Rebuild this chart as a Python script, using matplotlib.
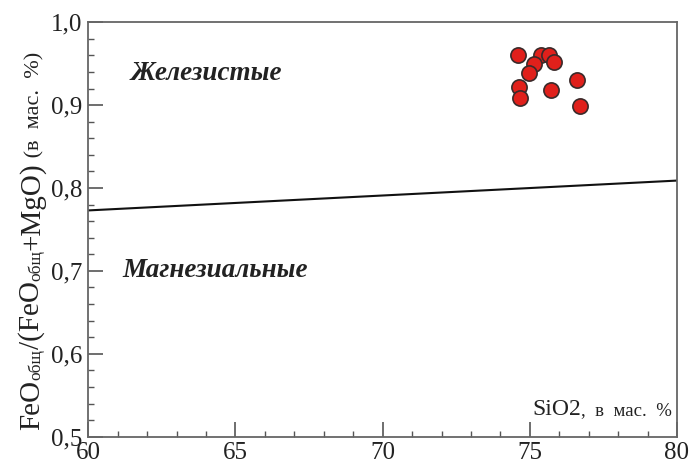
import matplotlib
matplotlib.use("Agg")
import matplotlib.pyplot as plt
from matplotlib.ticker import MultipleLocator, FuncFormatter
from matplotlib.transforms import offset_copy

plt.rcParams["font.family"] = ["Liberation Serif", "DejaVu Serif"]

# data
sio2 = [74.61, 75.38, 75.66, 75.83, 75.15, 74.96, 76.61, 74.63, 74.67, 75.73, 76.71]
fe_ratio = [0.960, 0.960, 0.960, 0.952, 0.950, 0.939, 0.930, 0.922, 0.909, 0.918, 0.899]
boundary_x = [60, 80]
boundary_y = [0.773, 0.809]

W, H = 693, 469
fig = plt.figure(figsize=(W / 100, H / 100), dpi=100)
ax = fig.add_axes([0.1274, 0.0689, 0.8495, 0.8836])

ax.plot(boundary_x, boundary_y, color="#111111", lw=1.5)
ax.scatter(sio2, fe_ratio, s=120, c="#e0201b", edgecolors="#3a2a2a", linewidths=1.2, zorder=3)

ax.set_xlim(60, 80)
ax.set_ylim(0.5, 1.0)
ax.xaxis.set_major_locator(MultipleLocator(5))
ax.xaxis.set_minor_locator(MultipleLocator(1))
ax.yaxis.set_major_locator(MultipleLocator(0.1))
ax.yaxis.set_minor_locator(MultipleLocator(0.02))
ax.yaxis.set_major_formatter(FuncFormatter(lambda v, p: f"{v:.1f}".replace(".", ",")))
ax.tick_params(which="both", direction="in", colors="#555555", labelcolor="#222222",
               top=False, right=False, labelsize=18)
ax.tick_params(which="major", length=11, width=1.2)
ax.tick_params(which="minor", length=4.5, width=1.0)
ax.tick_params(axis="x", pad=4)
ax.tick_params(axis="y", pad=4)
for s in ax.spines.values():
    s.set_color("#666666")
    s.set_linewidth(1.3)

ax.text(61.45, 0.938, "Железистые", fontsize=19.5, fontweight="bold", style="italic",
        va="center", ha="left", color="#222222")
ax.text(61.15, 0.700, "Магнезиальные", fontsize=19.5, fontweight="bold", style="italic",
        va="center", ha="left", color="#222222")

fig.canvas.draw()
r = fig.canvas.get_renderer()

# x label inside axes, two sizes
t1 = ax.text(0.754, 0.052, "SiO2", transform=ax.transAxes, fontsize=17,
             ha="left", va="baseline", color="#222222")
w = t1.get_window_extent(r).width
ax.text(0.754, 0.052, ",  в  мас.  %", fontsize=13.5, ha="left", va="baseline", color="#222222",
        transform=offset_copy(ax.transAxes, fig=fig, x=w, y=0, units="dots"))

# y label, pieces stacked bottom to top
pieces = [("FeO", 21, 0), ("общ", 12.5, 1), ("/(FeO", 21, 0), ("общ", 12.5, 1),
          ("+MgO)", 21, 0), (" (в  мас.  %)", 16, 0)]
x0, y0 = 39, 430
pos = 0.0
for txt, size, dx in pieces:
    t = fig.text(0, 0, txt, fontsize=size, rotation=90, ha="left", va="baseline",
                 rotation_mode="anchor", color="#222222",
                 transform=offset_copy(fig.transFigure, fig=fig, x=x0 + dx, y=(H - y0) + pos,
                                       units="dots"))
    pos += t.get_window_extent(r).height

fig.savefig("out.png", dpi=100)
